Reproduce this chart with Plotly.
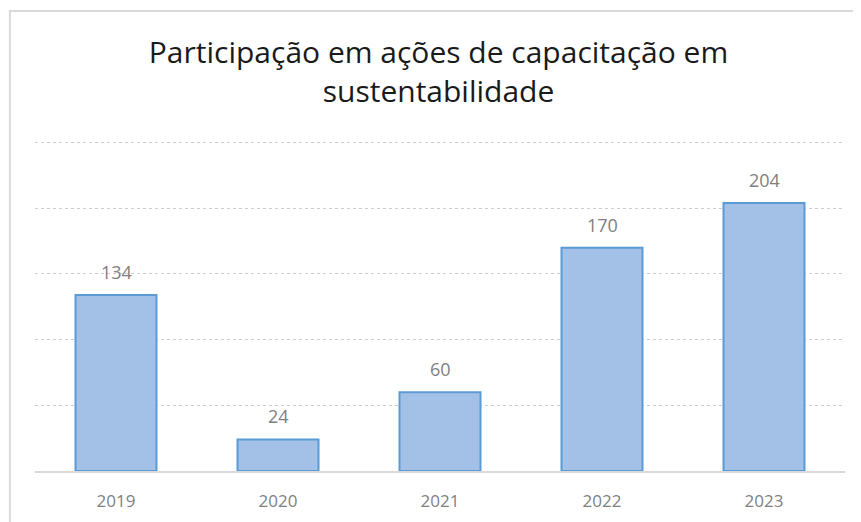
import plotly.graph_objects as go

# data
years = ["2019", "2020", "2021", "2022", "2023"]
participants = [134, 24, 60, 170, 204]
title_lines = ["Participação em ações de capacitação em", "sustentabilidade"]

fig = go.Figure()

fig.add_trace(go.Bar(
    x=years, y=participants,
    marker=dict(color="#a3c0e6", line=dict(color="#5b9bd5", width=2)),
    width=0.5,
    hoverinfo="skip",
))

# value labels above the bars (category index, numeric strings confuse the axis)
for i, v in enumerate(participants):
    fig.add_annotation(x=i, y=v, text=str(v), showarrow=False,
                       yanchor="bottom", yshift=9,
                       font=dict(family="Open Sans", size=18, color="#808080"))

# chart frame
fig.add_shape(type="rect", xref="paper", yref="paper",
              x0=-0.031, x1=1.05, y0=-0.25, y1=1.39,
              line=dict(color="#d9d9d9", width=2), layer="below")

# page body adds an 8px offset, margins compensate for it
fig.update_layout(
    width=861, height=522,
    margin=dict(l=26.5, r=23.5, t=132, b=59),
    paper_bgcolor="white", plot_bgcolor="white",
    showlegend=False,
    title=dict(text="<br>".join(title_lines), x=0.5, xanchor="center",
               y=0.895, yanchor="middle",
               font=dict(family="Open Sans", size=30, color="#1a1a1a")),
    xaxis=dict(type="category", range=[-0.5, len(years) - 0.5],
               showline=True, linecolor="#d9d9d9", linewidth=2,
               ticks="", tickfont=dict(family="Open Sans", size=17, color="#7f7f7f"),
               ticklabelstandoff=14),
    yaxis=dict(range=[0, 252], tickvals=[50, 100, 150, 200, 250], showticklabels=False,
               showgrid=True, gridcolor="#cccccc", griddash="dot", gridwidth=1,
               zeroline=False),
)

fig.write_html("out.html")
